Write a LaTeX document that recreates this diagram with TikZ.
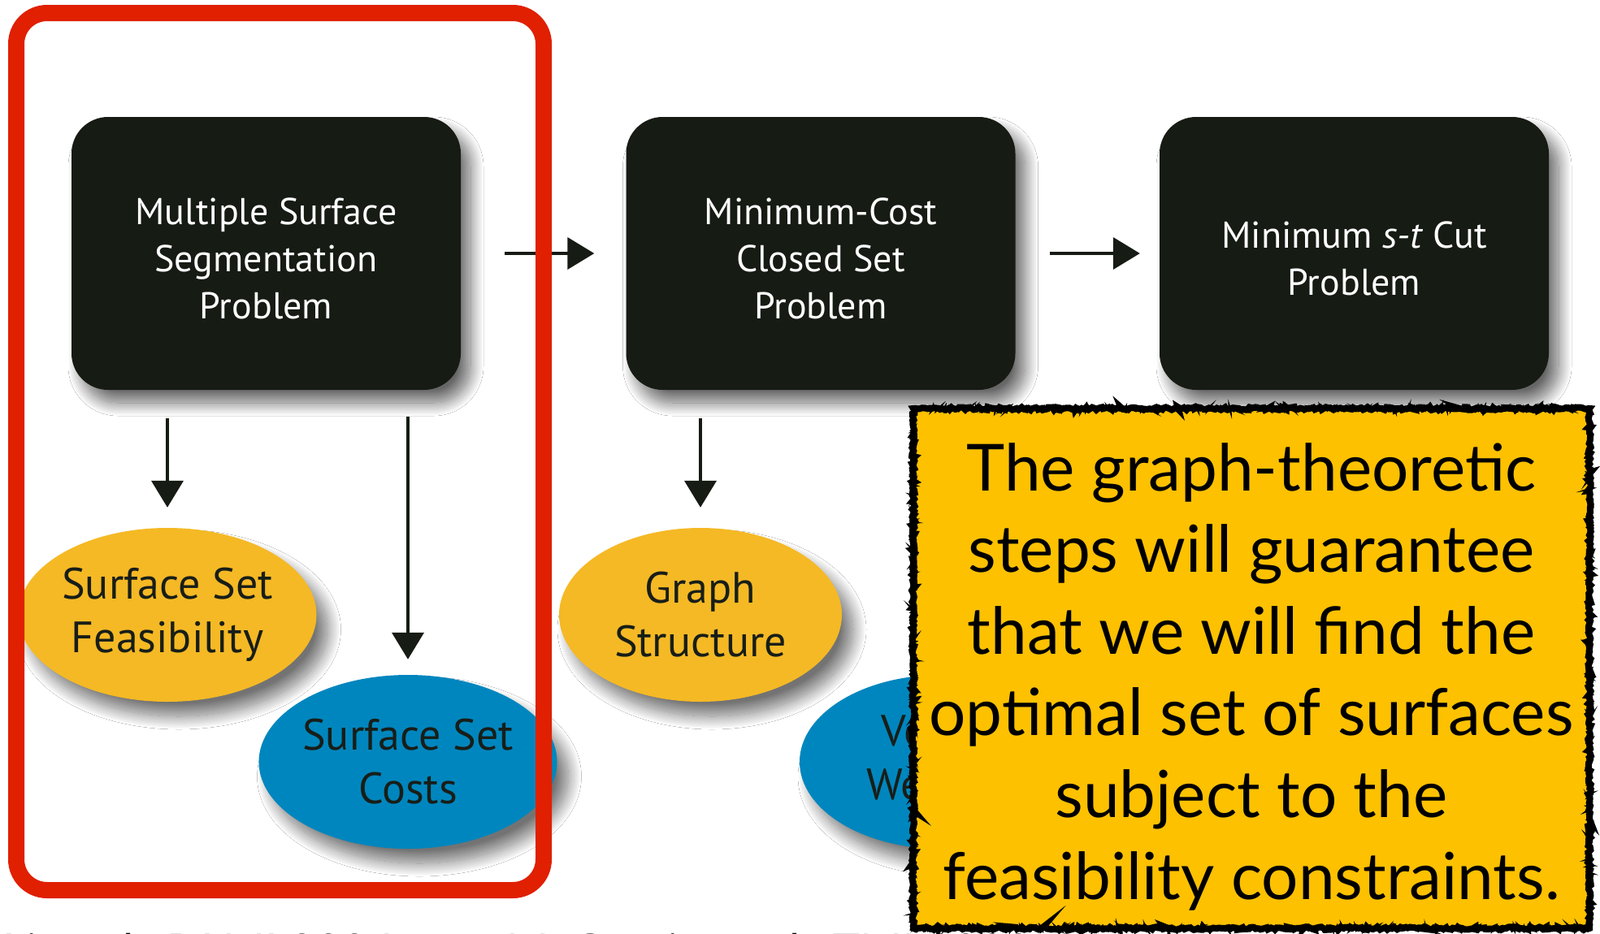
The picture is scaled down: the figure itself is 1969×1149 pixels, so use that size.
\documentclass[tikz,border=0pt]{standalone}
\usepackage{fontspec}
\setmainfont{PT Sans}
\newfontfamily\callfont{Lato}
\usetikzlibrary{shapes.geometric,arrows.meta,shadows.blur,decorations.pathmorphing}
\definecolor{cBlack}{RGB}{22,27,20}
\definecolor{cRed}{RGB}{224,32,0}
\definecolor{cYel}{RGB}{245,185,37}
\definecolor{cBlue}{RGB}{0,134,190}
\definecolor{cCall}{RGB}{253,193,0}
\definecolor{cText}{RGB}{24,30,24}
\tikzset{
  probbox/.style={rectangle, rounded corners=45pt, fill=cBlack, minimum width=479pt,
    minimum height=336pt, inner sep=0pt,
    blur shadow={shadow xshift=12pt, shadow yshift=-16pt, shadow blur radius=16pt,
      shadow blur steps=24, shadow opacity=60}},
  probtext/.style={text=white, align=center, inner sep=0pt, font=\fontsize{46}{58}\selectfont},
  ellnode/.style={ellipse, minimum width=348pt, minimum height=214pt, inner sep=0pt,
    text=cText, align=center, font=\fontsize{54}{66}\selectfont,
    blur shadow={shadow xshift=14pt, shadow yshift=-18pt, shadow blur radius=16pt,
      shadow blur steps=24, shadow opacity=55}},
  yell/.style={ellnode, fill=cYel},
  blueell/.style={ellnode, fill=cBlue},
  flowarrow/.style={draw=cBlack, line width=4pt, -{Triangle[length=33pt,width=39pt]}},
  redframe/.style={draw=cRed, line width=20pt, rounded corners=38pt, minimum width=649pt,
    minimum height=1080pt, inner sep=0pt},
  callbox/.style={fill=cCall, minimum width=832pt, minimum height=640pt, inner sep=0pt,
    postaction={draw=black, line width=8pt, decorate,
      decoration={random steps, segment length=2.5pt, amplitude=1.8pt}},
    postaction={draw=black, line width=3pt, decorate,
      decoration={random steps, segment length=1.5pt, amplitude=2.6pt}}},
  calltext/.style={align=center, text=black, font=\callfont\fontsize{80}{100.6}\selectfont},
  citetext/.style={anchor=base west, text=black, font=\callfont\fontsize{56}{60}\selectfont}
}
\begin{document}
\begin{tikzpicture}[x=1pt,y=-1pt]
\useasboundingbox (0,0) rectangle (1969,1149);
\fill[white] (0,0) rectangle (1969,1149);

% citations (only their tops show)
\begin{scope}
\clip (0,0) rectangle (1969,1149);
\node[citetext] (cite1) at (0,1190) {Li et al., PAMI 2006};
\node[citetext] (cite2) at (620,1190) {M. Garvin et al., TMI 2009};
\end{scope}

% ellipses
\node[yell] (feas) at (206,757) {Surface Set\\Feasibility};
\node[blueell] (costs) at (502,938) {Surface Set\\Costs};
\node[yell] (graph) at (862,757) {Graph\\Structure};
\node[blueell] (weights) at (1158,938) {Vertex\\Weights};

% problem boxes
\node[probbox] (msp) at (327.5,312) {};
\node[probbox] (mcc) at (1010,312) {};
\node[probbox] (mst) at (1666.5,312) {};
\node[probtext] (msptxt) at ([yshift=-6pt]msp.center) {Multiple Surface\\Segmentation\\Problem};
\node[probtext] (mcctxt) at ([yshift=-6pt]mcc.center) {Minimum-Cost\\Closed Set\\Problem};
\node[probtext] (msttxt) at ([yshift=-6pt]mst.center) {Minimum \textit{s-t} Cut\\Problem};

% connectors
\draw[flowarrow, shorten <=54pt, shorten >=39pt] (msp.east) -- (mcc.west);
\draw[flowarrow, shorten <=42pt, shorten >=24pt] (mcc.east) -- (mst.west);
\draw[flowarrow, shorten <=35pt, shorten >=25pt] (msp.south -| feas.north) -- (feas.north);
\draw[flowarrow, shorten <=33pt, shorten >=19pt] (msp.south -| costs.north) -- (costs.north);
\draw[flowarrow, shorten <=35pt, shorten >=25pt] (mcc.south -| graph.north) -- (graph.north);
\draw[flowarrow, shorten <=33pt, shorten >=19pt] (mcc.south -| weights.north) -- (weights.north);

% red highlight frame
\node[redframe] (frame) at (344.5,556) {};

% callout
\node[callbox] (callout) at (1540,823) {};
\node[calltext] (calltxt) at (1540,833) {The graph-theoretic\\steps will guarantee\\that we will find the\\optimal set of surfaces\\subject to the\\feasibility constraints.};
\end{tikzpicture}
\end{document}
